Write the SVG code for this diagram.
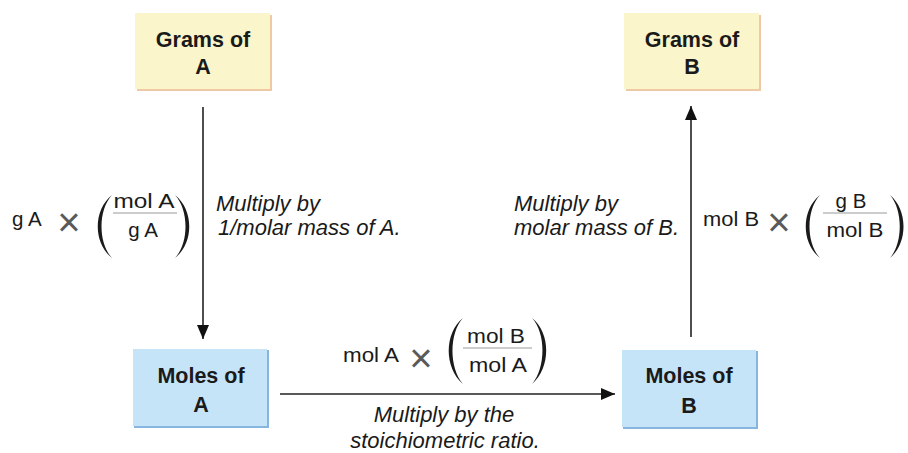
<svg xmlns="http://www.w3.org/2000/svg" width="908" height="453" viewBox="0 0 908 453">
  <style>
    .box-label { font-family: "Liberation Sans", Arial, sans-serif; font-weight: bold; font-size: 21.5px; fill: #1a1a1a; text-anchor: middle; }
    .note { font-family: "Liberation Sans", Arial, sans-serif; font-style: italic; font-size: 22px; fill: #1a1a1a; }
    .math { font-family: "Liberation Sans", Arial, sans-serif; font-size: 20.5px; fill: #1a1a1a; }
    .times { font-family: "Liberation Sans", Arial, sans-serif; font-size: 40px; fill: #5a5a5a; text-anchor: middle; }
    .mid { text-anchor: middle; }
    .paren { fill: #1a1a1a; }
    .bar { stroke: #9a9a9a; stroke-width: 1.2; }
    .conn { stroke: #222; stroke-width: 1.6; fill: none; }
    .grams { fill: #fbf5cb; }
    .grams-edge { fill: #efc8a4; }
    .moles { fill: #c6e4f7; }
    .moles-edge { fill: #86b6df; }
  </style>
  <defs>
    <marker id="head" markerUnits="userSpaceOnUse" markerWidth="14" markerHeight="12" viewBox="0 0 14 12" refX="14" refY="6" orient="auto">
      <path d="M0,0 L14,6 L0,12 Z" fill="#111"/>
    </marker>
  </defs>

  <rect width="908" height="453" fill="#ffffff"/>

  <!-- nodes -->
  <g id="grams-a">
    <rect class="grams-edge" x="137" y="15" width="135" height="76"/>
    <rect class="grams" x="135" y="13" width="135" height="76"/>
    <text class="box-label" x="203" y="47">Grams of</text>
    <text class="box-label" x="203" y="74">A</text>
  </g>
  <g id="moles-a">
    <rect class="moles-edge" x="134" y="350" width="135" height="78"/>
    <rect class="moles" x="133" y="349" width="134" height="77"/>
    <text class="box-label" x="201" y="383">Moles of</text>
    <text class="box-label" x="201" y="412">A</text>
  </g>
  <g id="grams-b">
    <rect class="grams-edge" x="626" y="15" width="135" height="76"/>
    <rect class="grams" x="624" y="13" width="135" height="76"/>
    <text class="box-label" x="692" y="47">Grams of</text>
    <text class="box-label" x="692" y="74">B</text>
  </g>
  <g id="moles-b">
    <rect class="moles-edge" x="623" y="351" width="135" height="78"/>
    <rect class="moles" x="622" y="350" width="134" height="77"/>
    <text class="box-label" x="689" y="383">Moles of</text>
    <text class="box-label" x="689" y="413">B</text>
  </g>

  <!-- connectors -->
  <g id="connectors">
    <line class="conn" x1="203" y1="107" x2="203" y2="339" marker-end="url(#head)"/>
    <line class="conn" x1="691" y1="337" x2="691" y2="106" marker-end="url(#head)"/>
    <line class="conn" x1="280" y1="394" x2="615" y2="394" marker-end="url(#head)"/>
  </g>

  <!-- grams A to moles A -->
  <g id="label-a">
    <text class="math" x="12" y="226">g A</text>
    <text class="times" x="69" y="236">×</text>
    <path class="paren" d="M112,195 C93,210 93,243 112,258 C98,243 98,210 112,195 Z"/>
    <text class="math mid" x="144" y="208" textLength="61" lengthAdjust="spacingAndGlyphs">mol A</text>
    <line class="bar" x1="113" y1="213" x2="177" y2="213"/>
    <text class="math mid" x="143" y="237">g A</text>
    <path class="paren" d="M175,195 C194,210 194,243 175,258 C189,243 189,210 175,195 Z"/>
    <text class="note" x="216" y="211">Multiply by</text>
    <text class="note" x="218" y="235">1/molar mass of A.</text>
  </g>

  <!-- moles B to grams B -->
  <g id="label-b">
    <text class="note" x="514" y="211">Multiply by</text>
    <text class="note" x="514" y="235">molar mass of B.</text>
    <text class="math" x="703" y="226" textLength="56" lengthAdjust="spacingAndGlyphs">mol B</text>
    <text class="times" x="779" y="236">×</text>
    <path class="paren" d="M820,195 C801,210 801,243 820,258 C806,243 806,210 820,195 Z"/>
    <text class="math mid" x="851" y="208">g B</text>
    <line class="bar" x1="823" y1="213" x2="887" y2="213"/>
    <text class="math mid" x="855" y="237" textLength="57" lengthAdjust="spacingAndGlyphs">mol B</text>
    <path class="paren" d="M890,195 C908,210 908,243 890,258 C903,243 903,210 890,195 Z"/>
  </g>

  <!-- moles A to moles B -->
  <g id="label-ratio">
    <text class="math" x="343" y="362" textLength="56" lengthAdjust="spacingAndGlyphs">mol A</text>
    <text class="times" x="421" y="372">×</text>
    <path class="paren" d="M463,318 C444,333 444,368 463,384 C449,368 449,333 463,318 Z"/>
    <text class="math mid" x="496" y="343" textLength="58" lengthAdjust="spacingAndGlyphs">mol B</text>
    <line class="bar" x1="463" y1="348" x2="532" y2="348"/>
    <text class="math mid" x="498" y="372" textLength="58" lengthAdjust="spacingAndGlyphs">mol A</text>
    <path class="paren" d="M532,318 C551,333 551,368 532,384 C546,368 546,333 532,318 Z"/>
    <text class="note mid" x="444" y="422">Multiply by the</text>
    <text class="note mid" x="445" y="448">stoichiometric ratio.</text>
  </g>
</svg>
